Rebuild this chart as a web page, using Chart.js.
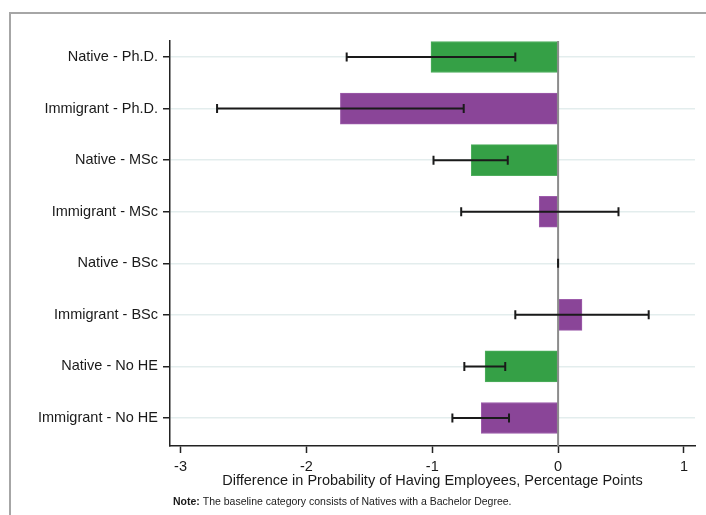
<!DOCTYPE html>
<html>
<head>
<meta charset="utf-8">
<script src="https://cdn.jsdelivr.net/npm/chart.js@4.4.1/dist/chart.umd.min.js"></script>
<style>
    html, body { margin: 0; padding: 0; background: #fff; }
    canvas { display: block; }
</style>
</head>
<body>
<canvas id="chartEmpleados" width="706" height="515"></canvas>
<script>
// Datos
const categorias = [
    'Native - Ph.D.',
    'Immigrant - Ph.D.',
    'Native - MSc',
    'Immigrant - MSc',
    'Native - BSc',
    'Immigrant - BSc',
    'Native - No HE',
    'Immigrant - No HE'
];
const estimaciones = [-1.01, -1.73, -0.69, -0.15, 0, 0.19, -0.58, -0.61];
const intervaloBajo = [-1.68, -2.71, -0.99, -0.77, 0, -0.34, -0.745, -0.84];
const intervaloAlto = [-0.34, -0.75, -0.40, 0.48, 0, 0.72, -0.42, -0.39];
const ticksX = [-3, -2, -1, 0, 1];

const FUENTE = '"Liberation Sans", Arial, sans-serif';
const VERDE = '#35a046';
const MORADO = '#8a4598';

const colores = categorias.map(c => c.startsWith('Native') ? VERDE : MORADO);
const bordes = categorias.map(c => c.startsWith('Native') ? '#4fae5e' : '#9d5cab');

/**
 * Marco gris, línea del cero, barras de error y nota al pie
 */
const pluginExtras = {
    id: 'extras',
    beforeDraw(chart) {
        const ctx = chart.ctx;
        ctx.save();
        ctx.strokeStyle = '#a6a6a6';
        ctx.lineWidth = 2;
        ctx.beginPath();
        ctx.moveTo(706, 13);
        ctx.lineTo(10, 13);
        ctx.lineTo(10, 515);
        ctx.stroke();
        ctx.restore();
    },
    afterDatasetsDraw(chart) {
        const ctx = chart.ctx;
        const x = chart.scales.x;
        const y = chart.scales.y;
        const area = chart.chartArea;

        // línea vertical en cero
        ctx.save();
        ctx.strokeStyle = '#8c8c8c';
        ctx.lineWidth = 2;
        ctx.beginPath();
        ctx.moveTo(x.getPixelForValue(0), area.top);
        ctx.lineTo(x.getPixelForValue(0), area.bottom);
        ctx.stroke();

        // barras de error
        ctx.strokeStyle = '#1a1a1a';
        ctx.lineWidth = 2;
        const cap = 4.5;
        categorias.forEach((_, i) => {
            const py = y.getPixelForValue(i);
            const x1 = x.getPixelForValue(intervaloBajo[i]);
            const x2 = x.getPixelForValue(intervaloAlto[i]);
            ctx.beginPath();
            ctx.moveTo(x1, py);
            ctx.lineTo(x2, py);
            ctx.moveTo(x1, py - cap);
            ctx.lineTo(x1, py + cap);
            ctx.moveTo(x2, py - cap);
            ctx.lineTo(x2, py + cap);
            ctx.stroke();
        });
        ctx.restore();
    },
    afterDraw(chart) {
        const ctx = chart.ctx;
        ctx.save();
        ctx.fillStyle = '#1a1a1a';
        ctx.textBaseline = 'middle';
        ctx.font = 'bold 10.5px ' + FUENTE;
        ctx.fillText('Note:', 173, 502);
        const w = ctx.measureText('Note: ').width;
        ctx.font = '10.5px ' + FUENTE;
        ctx.fillText('The baseline category consists of Natives with a Bachelor Degree.', 173 + w, 502);
        ctx.restore();
    }
};

function crearGrafica() {
    const ctx = document.getElementById('chartEmpleados').getContext('2d');

    new Chart(ctx, {
        type: 'bar',
        data: {
            datasets: [{
                data: estimaciones.map((v, i) => ({ x: v, y: i })),
                backgroundColor: colores,
                borderColor: bordes,
                borderWidth: 1,
                borderSkipped: false,
                barThickness: 31
            }]
        },
        options: {
            responsive: false,
            animation: false,
            indexAxis: 'y',
            layout: {
                padding: { left: 0, right: 11, top: 41, bottom: 0 }
            },
            plugins: {
                legend: { display: false },
                tooltip: { enabled: false }
            },
            scales: {
                x: {
                    type: 'linear',
                    min: -3.084,
                    max: 1.088,
                    afterBuildTicks: scale => {
                        scale.ticks = ticksX.map(v => ({ value: v }));
                    },
                    afterFit: scale => { scale.height = 69; },
                    border: { display: true, color: '#222', width: 1.5 },
                    grid: {
                        drawOnChartArea: false,
                        drawTicks: true,
                        tickLength: 7,
                        tickColor: '#222',
                        tickWidth: 1.5
                    },
                    ticks: {
                        padding: 5,
                        color: '#1a1a1a',
                        font: { family: FUENTE, size: 14.5 },
                        maxRotation: 0
                    },
                    title: {
                        display: true,
                        text: 'Difference in Probability of Having Employees, Percentage Points',
                        color: '#1a1a1a',
                        font: { family: FUENTE, size: 14.5 },
                        padding: { top: 0, bottom: 25.6 }
                    }
                },
                y: {
                    type: 'linear',
                    reverse: true,
                    offset: false,
                    min: -0.31,
                    max: 7.543,
                    afterBuildTicks: scale => {
                        scale.ticks = categorias.map((_, i) => ({ value: i }));
                    },
                    afterFit: scale => { scale.width = 170; },
                    border: { display: true, color: '#222', width: 1.5 },
                    grid: {
                        offset: false,
                        color: '#e3eded',
                        lineWidth: 1.5,
                        drawTicks: true,
                        tickLength: 7,
                        tickColor: '#222',
                        tickWidth: 1.5
                    },
                    ticks: {
                        padding: 5,
                        color: '#1a1a1a',
                        font: { family: FUENTE, size: 14.5 },
                        callback: v => categorias[v]
                    }
                }
            }
        },
        plugins: [pluginExtras]
    });
}

crearGrafica();
</script>
</body>
</html>
